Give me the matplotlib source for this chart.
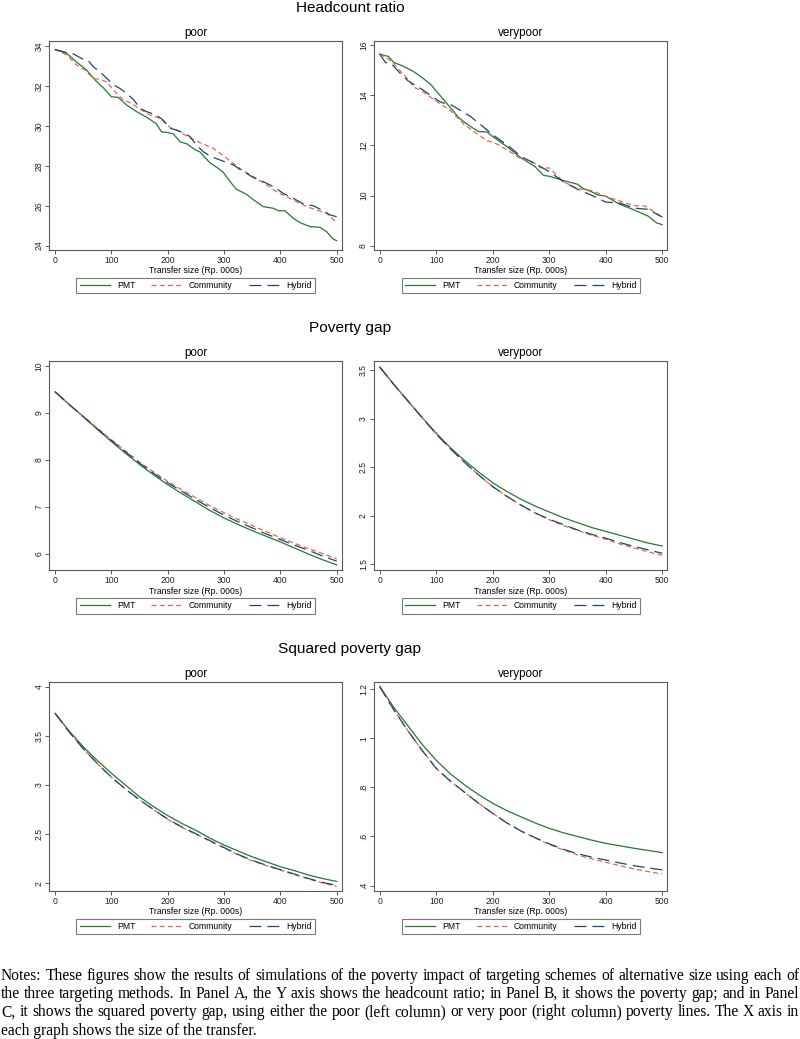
import matplotlib
matplotlib.use("Agg")
import matplotlib.pyplot as plt
from matplotlib.ticker import FuncFormatter, MultipleLocator

plt.rcParams['font.family'] = ['Liberation Sans', 'DejaVu Sans']
plt.rcParams['lines.scale_dashes'] = False

# ---------------- data ----------------
series_names = ["PMT", "Community", "Hybrid"]
x_axis_label = "Transfer size (Rp. 000s)"
panel_titles = ["Headcount ratio", "Poverty gap", "Squared poverty gap"]
column_titles = ["poor", "verypoor"]

# Panel A: headcount ratio, poor
hc_poor_pmt_x = [0, 21, 38, 56, 71, 86, 100, 112, 127, 145, 163, 180, 189, 198, 210, 222, 234, 249, 257,
                 275, 290, 299, 311, 322, 340, 352, 370, 388, 396, 408, 423, 435, 453, 470, 482, 494, 500]
hc_poor_pmt_y = [33.83, 33.63, 33.2, 32.8, 32.3, 31.9, 31.46, 31.43, 31.05, 30.71, 30.43, 30.1, 29.7, 29.68,
                 29.6, 29.2, 29.1, 28.8, 28.7, 28.15, 27.87, 27.66, 27.2, 26.82, 26.57, 26.3, 25.95, 25.87,
                 25.75, 25.75, 25.37, 25.15, 24.95, 24.92, 24.7, 24.32, 24.25]
hc_poor_com_x = [0, 21, 38, 53, 68, 80, 92, 107, 121, 136, 151, 169, 186, 204, 222, 240, 257, 281, 305,
                 328, 352, 376, 393, 411, 429, 447, 464, 482, 500]
hc_poor_com_y = [33.83, 33.55, 33.05, 32.8, 32.38, 32.33, 32.2, 31.7, 31.3, 31.13, 30.83, 30.54, 30.38,
                 29.93, 29.7, 29.38, 29.16, 28.88, 28.37, 27.87, 27.46, 27.04, 26.7, 26.45, 26.2, 25.95,
                 25.79, 25.62, 25.15]
hc_poor_hyb_x = [0, 21, 33, 47, 59, 68, 80, 92, 104, 115, 127, 139, 151, 163, 180, 192, 204, 216, 228, 240,
                 251, 263, 275, 290, 305, 317, 328, 340, 352, 370, 388, 405, 423, 441, 459, 476, 488, 500]
hc_poor_hyb_y = [33.83, 33.67, 33.6, 33.38, 33.27, 32.96, 32.71, 32.38, 32.05, 31.88, 31.63, 31.33, 30.88,
                 30.71, 30.54, 30.29, 29.88, 29.79, 29.66, 29.46, 29.04, 28.71, 28.49, 28.32, 28.16, 28.04,
                 27.82, 27.62, 27.41, 27.2, 26.95, 26.62, 26.37, 26.09, 25.99, 25.75, 25.54, 25.45]

# Panel A: headcount ratio, verypoor
hc_vp_pmt_x = [0, 10, 15, 25, 40, 60, 75, 90, 100, 110, 125, 140, 150, 160, 175, 190, 200, 225, 250, 275,
               290, 300, 325, 350, 360, 375, 385, 400, 425, 450, 475, 490, 500]
hc_vp_pmt_y = [15.64, 15.57, 15.55, 15.3, 15.17, 14.94, 14.7, 14.43, 14.16, 13.9, 13.5, 13.1, 12.92, 12.76,
               12.55, 12.53, 12.35, 11.95, 11.5, 11.15, 10.8, 10.77, 10.6, 10.45, 10.28, 10.15, 10.03, 9.97,
               9.65, 9.43, 9.18, 8.91, 8.84]
hc_vp_com_x = [0, 15, 25, 50, 60, 75, 100, 125, 150, 175, 190, 200, 210, 225, 250, 275, 285, 300, 310, 325,
               350, 375, 400, 425, 450, 470, 500]
hc_vp_com_y = [15.64, 15.45, 15.24, 14.63, 14.32, 14.16, 13.76, 13.39, 12.82, 12.42, 12.18, 12.13, 12.02,
               11.82, 11.46, 11.28, 11.1, 11.1, 10.88, 10.55, 10.28, 10.2, 9.97, 9.78, 9.6, 9.58, 9.14]
hc_vp_hyb_x = [0, 10, 20, 35, 50, 75, 100, 110, 125, 140, 160, 175, 200, 225, 240, 250, 275, 290, 300, 325,
               350, 375, 400, 425, 450, 475, 500]
hc_vp_hyb_y = [15.64, 15.3, 15.26, 14.9, 14.57, 14.23, 13.83, 13.7, 13.63, 13.43, 13.16, 12.89, 12.42,
               12.02, 11.75, 11.55, 11.28, 11.08, 10.95, 10.55, 10.25, 10.01, 9.74, 9.7, 9.5, 9.45, 9.14]

# Smooth panels share a common x grid
x_grid = [0, 25, 50, 75, 100, 125, 150, 175, 200, 225, 250, 275, 300, 325, 350, 375, 400, 425, 450, 475, 500]

# Panel B: poverty gap
pg_poor_pmt = [9.45, 9.18, 8.92, 8.65, 8.39, 8.14, 7.90, 7.68, 7.47, 7.28, 7.10, 6.92, 6.76, 6.62, 6.49,
               6.37, 6.25, 6.12, 5.99, 5.87, 5.76]
pg_poor_com = [9.45, 9.18, 8.93, 8.68, 8.43, 8.19, 7.95, 7.74, 7.54, 7.36, 7.19, 7.02, 6.87, 6.73, 6.60,
               6.47, 6.34, 6.22, 6.11, 6.00, 5.89]
pg_poor_hyb = [9.45, 9.18, 8.92, 8.66, 8.41, 8.17, 7.93, 7.71, 7.51, 7.33, 7.15, 6.98, 6.82, 6.68, 6.55,
               6.42, 6.30, 6.18, 6.07, 5.95, 5.84]
pg_vp_pmt = [3.53, 3.35, 3.18, 3.01, 2.85, 2.70, 2.57, 2.45, 2.34, 2.25, 2.17, 2.10, 2.04, 1.98, 1.93,
             1.88, 1.84, 1.80, 1.76, 1.72, 1.69]
pg_vp_com = [3.53, 3.35, 3.18, 3.01, 2.84, 2.69, 2.55, 2.42, 2.30, 2.20, 2.11, 2.03, 1.96, 1.90, 1.85,
             1.80, 1.76, 1.71, 1.67, 1.63, 1.595]
pg_vp_hyb = [3.53, 3.35, 3.18, 3.01, 2.84, 2.69, 2.55, 2.42, 2.30, 2.20, 2.11, 2.03, 1.965, 1.91, 1.855,
             1.81, 1.77, 1.725, 1.685, 1.65, 1.615]

# Panel C: squared poverty gap
spg_poor_pmt = [3.73, 3.55, 3.39, 3.25, 3.12, 3.00, 2.88, 2.78, 2.69, 2.61, 2.54, 2.46, 2.39, 2.33, 2.27,
                2.22, 2.17, 2.13, 2.085, 2.05, 2.02]
spg_poor_com = [3.73, 3.54, 3.37, 3.22, 3.08, 2.96, 2.85, 2.75, 2.65, 2.57, 2.50, 2.43, 2.36, 2.29, 2.23,
                2.18, 2.135, 2.09, 2.045, 2.005, 1.97]
spg_poor_hyb = [3.73, 3.54, 3.37, 3.22, 3.08, 2.96, 2.85, 2.75, 2.655, 2.575, 2.505, 2.435, 2.365, 2.295,
                2.235, 2.185, 2.14, 2.095, 2.05, 2.01, 1.98]
spg_vp_pmt = [1.21, 1.125, 1.05, 0.975, 0.91, 0.855, 0.81, 0.77, 0.735, 0.705, 0.68, 0.655, 0.633, 0.615,
              0.60, 0.585, 0.572, 0.562, 0.552, 0.543, 0.534]
spg_vp_com = [1.21, 1.115, 1.03, 0.95, 0.877, 0.825, 0.78, 0.735, 0.694, 0.655, 0.622, 0.594, 0.567, 0.545,
              0.525, 0.509, 0.495, 0.481, 0.468, 0.457, 0.447]
spg_vp_hyb = [1.21, 1.115, 1.03, 0.95, 0.877, 0.825, 0.78, 0.735, 0.694, 0.655, 0.622, 0.595, 0.570, 0.548,
              0.530, 0.516, 0.504, 0.492, 0.481, 0.472, 0.464]

# y-axis tick specs per panel (start, stop, step) and limits
ylims = [[(23.78, 34.27), (7.83, 16.17)],
         [(5.645, 10.106), (1.44, 3.592)],
         [(1.923, 4.051), (0.378, 1.23)]]
yticks = [[(24, 34, 2), (8, 16, 2)],
          [(6, 10, 1), (1.5, 3.5, 0.5)],
          [(2, 4, 0.5), (0.4, 1.2, 0.2)]]

notes_lines = [
    "Notes: These figures show the results of simulations of the poverty impact of targeting schemes of alternative size using each of",
    "the three targeting methods. In Panel A, the Y axis shows the headcount ratio; in Panel B, it shows the poverty gap; and in Panel",
    "C, it shows the squared poverty gap, using either the poor (left column) or very poor (right column) poverty lines. The X axis in",
    "each graph shows the size of the transfer.",
]

# ---------------- figure ----------------
W, H = 800, 1039
fig = plt.figure(figsize=(W / 100, H / 100), dpi=100)

colors = {"PMT": "#237a30", "Community": "#ec6445", "Hybrid": "#1d4674"}
dashes = {"PMT": None, "Community": (3.6, 2.3), "Hybrid": (8.6, 4.3)}
frame_col = "#5a5a5a"

panel_data = [
    [[(hc_poor_pmt_x, hc_poor_pmt_y), (hc_poor_com_x, hc_poor_com_y), (hc_poor_hyb_x, hc_poor_hyb_y)],
     [(hc_vp_pmt_x, hc_vp_pmt_y), (hc_vp_com_x, hc_vp_com_y), (hc_vp_hyb_x, hc_vp_hyb_y)]],
    [[(x_grid, pg_poor_pmt), (x_grid, pg_poor_com), (x_grid, pg_poor_hyb)],
     [(x_grid, pg_vp_pmt), (x_grid, pg_vp_com), (x_grid, pg_vp_hyb)]],
    [[(x_grid, spg_poor_pmt), (x_grid, spg_poor_com), (x_grid, spg_poor_hyb)],
     [(x_grid, spg_vp_pmt), (x_grid, spg_vp_com), (x_grid, spg_vp_hyb)]],
]

col_left = [49.3, 374.0]
col_width = [292.4, 293.3]
row_top = [40.7, 361.0, 681.7]
ax_h = 209.3

small_fs = 6.2


def fmt(v, pos):
    s = "%g" % round(v, 6)
    if s.startswith("0."):
        s = s[1:]
    return s


for r in range(3):
    fig.text(350 / W, 1 - (row_top[r] - 28.8) / H, panel_titles[r], fontsize=11.1,
             ha="center", va="baseline")
    for c in range(2):
        ax = fig.add_axes([col_left[c] / W, 1 - (row_top[r] + ax_h) / H, col_width[c] / W, ax_h / H])
        for name, (xs, ys) in zip(series_names, panel_data[r][c]):
            kw = dict(color=colors[name], lw=0.9, label=name)
            if dashes[name] is not None:
                kw["dashes"] = dashes[name]
            ax.plot(xs, ys, **kw)
        ax.set_xlim(-10.2, 508.9)
        ax.set_ylim(*ylims[r][c])
        ax.xaxis.set_major_locator(MultipleLocator(100))
        y0, y1, st = yticks[r][c]
        ax.yaxis.set_major_locator(MultipleLocator(st))
        ax.yaxis.set_major_formatter(FuncFormatter(fmt))
        ax.xaxis.set_major_formatter(FuncFormatter(fmt))
        for sp in ax.spines.values():
            sp.set_color(frame_col)
            sp.set_linewidth(0.8)
        ax.tick_params(axis="both", direction="out", length=3.1, width=0.7, colors=frame_col,
                       labelcolor="#222222", labelsize=small_fs)
        ax.tick_params(axis="x", pad=1.3)
        ax.tick_params(axis="y", pad=1.2, labelrotation=90)
        for lab in ax.get_yticklabels():
            lab.set_va("center")
        ax.set_title(column_titles[c], fontsize=8.4, pad=3.4)
        ax.set_xlabel(x_axis_label, fontsize=small_fs, labelpad=0.8)
        leg = ax.legend(loc="center", bbox_to_anchor=(0.5, -0.1696), ncol=3, fontsize=small_fs,
                        frameon=True, fancybox=False, handlelength=3.55, handletextpad=0.8,
                        columnspacing=1.85, borderpad=0.38, borderaxespad=0)
        leg.get_frame().set_edgecolor(frame_col)
        leg.get_frame().set_linewidth(0.8)

# ---------------- notes (justified) ----------------
serif = ["Liberation Serif", "DejaVu Serif"]
baselines = [979.5, 998.0, 1016.5, 1035.0]
x_start, x_end = 1.0, 799.0
renderer = fig.canvas.get_renderer()

# pick a font size so the longest justified line fills the width with normal spacing
probe_fs = 10.0
t = fig.text(0, 0, notes_lines[0], fontsize=probe_fs, family=serif)
w0 = t.get_window_extent(renderer).width
t.remove()
notes_fs = probe_fs * (x_end - x_start - 4) / w0

for i, line in enumerate(notes_lines):
    yb = 1 - baselines[i] / H
    if i < len(notes_lines) - 1:
        words = line.split(" ")
        widths = []
        for w in words:
            t = fig.text(0, 0, w, fontsize=notes_fs, family=serif)
            widths.append(t.get_window_extent(renderer).width)
            t.remove()
        gap = (x_end - x_start - sum(widths)) / (len(words) - 1)
        xp = x_start
        for w, wd in zip(words, widths):
            fig.text(xp / W, yb, w, fontsize=notes_fs, family=serif, ha="left", va="baseline")
            xp += wd + gap
    else:
        fig.text(x_start / W, yb, line, fontsize=notes_fs, family=serif, ha="left", va="baseline")

fig.savefig("out.png", dpi=100)
